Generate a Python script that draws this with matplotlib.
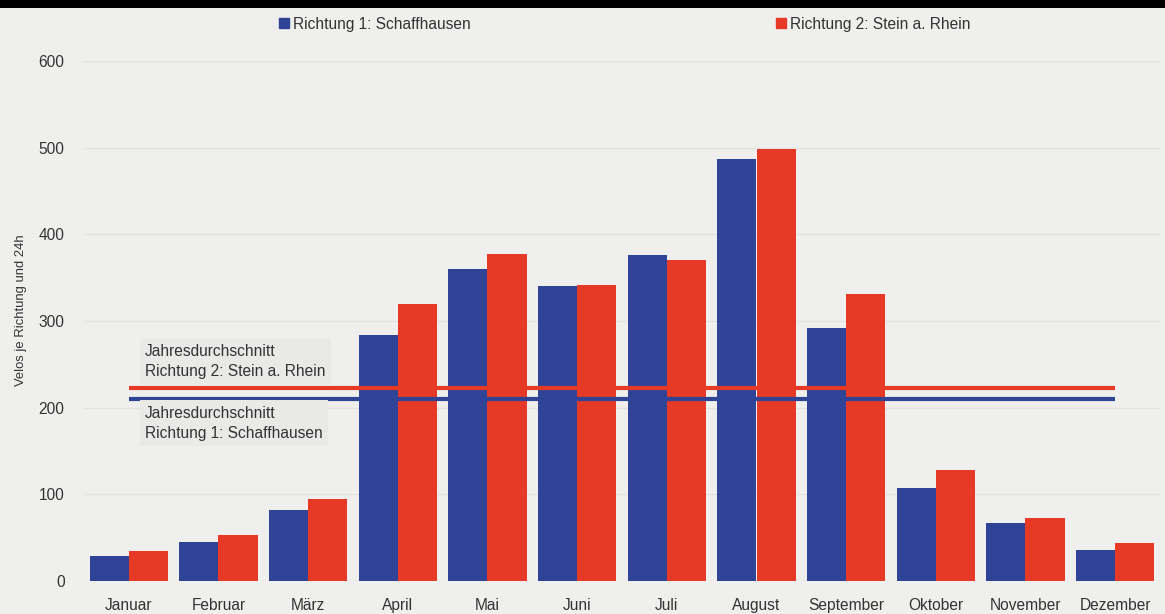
import matplotlib.pyplot as plt
import numpy as np
from matplotlib.patches import Patch, Rectangle

# monthly averages, bikes per direction and 24h
months = ['Januar', 'Februar', 'März', 'April', 'Mai', 'Juni', 'Juli',
          'August', 'September', 'Oktober', 'November', 'Dezember']
schaffhausen = [29, 45, 82, 284, 360, 340, 376, 487, 292, 107, 67, 36]
stein = [35, 53, 95, 320, 377, 342, 370, 499, 331, 128, 73, 44]
avg_schaffhausen = 210
avg_stein = 223
yticks = [0, 100, 200, 300, 400, 500, 600]

blue = '#2f4496'
red = '#e63a26'
bg = '#efefed'
txt = '#333333'

plt.rcParams['font.family'] = ['Liberation Sans', 'DejaVu Sans']

fig = plt.figure(figsize=(11.65, 6.14), dpi=100, facecolor=bg)
ax = fig.add_axes([84 / 1165, 1 - 581 / 614, (1160 - 84) / 1165, (581 - 61) / 614])
ax.set_facecolor(bg)

# black band on top
fig.patches.append(Rectangle((0, 1 - 8 / 614), 1, 8 / 614, transform=fig.transFigure,
                             facecolor='black', edgecolor='none', zorder=10))

x = np.arange(len(months))
w = 0.435
ax.bar(x - w / 2, schaffhausen, w, color=blue, zorder=2)
ax.bar(x + w / 2, stein, w, color=red, zorder=2)

# yearly averages
ax.plot([x[0], x[-1]], [avg_stein, avg_stein], color=red, lw=3, zorder=3, solid_capstyle='butt')
ax.plot([x[0], x[-1]], [avg_schaffhausen, avg_schaffhausen], color=blue, lw=3, zorder=3,
        solid_capstyle='butt')

box = dict(boxstyle='square,pad=0.35', facecolor='#e9e9e8', edgecolor='none')
ax.text(0.18, 233, 'Jahresdurchschnitt\nRichtung 2: Stein a. Rhein', fontsize=11.2,
        color=txt, va='bottom', ha='left', linespacing=1.4, bbox=box, zorder=4)
ax.text(0.18, 202, 'Jahresdurchschnitt\nRichtung 1: Schaffhausen', fontsize=11.2,
        color=txt, va='top', ha='left', linespacing=1.4, bbox=box, zorder=4)

ax.set_xlim(-0.5, 11.5)
ax.set_ylim(0, 600)
ax.set_yticks(yticks)
ax.set_xticks(x)
ax.set_xticklabels(months)
ax.tick_params(axis='both', length=0, labelsize=11.2, labelcolor=txt)
ax.tick_params(axis='y', pad=14)
ax.tick_params(axis='x', pad=12)
ax.grid(axis='y', color='#e2e2e0', lw=1, zorder=0)
ax.set_axisbelow(True)
for s in ax.spines.values():
    s.set_visible(False)

ax.set_ylabel('Velos je Richtung und 24h', fontsize=9.4, color=txt)
ax.yaxis.set_label_coords(-0.053, 0.52)

handles = [Patch(color=blue, label='Richtung 1: Schaffhausen'),
           Patch(color=red, label='Richtung 2: Stein a. Rhein')]
fig.legend(handles=handles, loc='center', bbox_to_anchor=(0.536, 1 - 24 / 614), ncol=2,
           frameon=False, fontsize=11.2, handlelength=0.65, handleheight=0.65,
           handletextpad=0.25, columnspacing=19.6, labelcolor=txt)

fig.savefig('out.png', dpi=100, facecolor=bg)
